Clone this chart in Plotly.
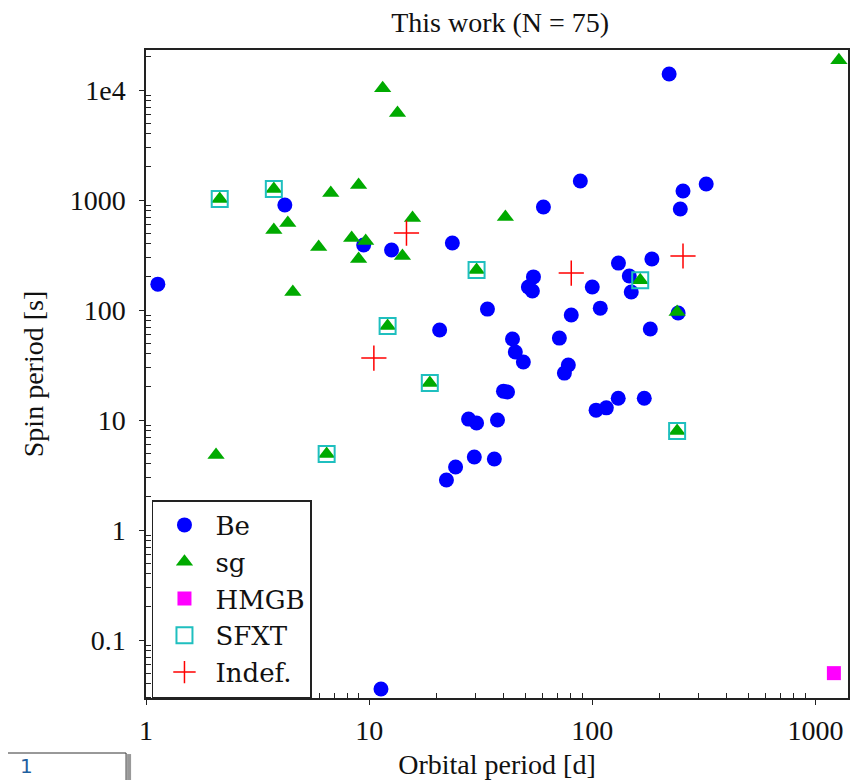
import plotly.graph_objects as go

# ---- data (orbital period [d], spin period [s]) ----
be_x = [1.13, 4.19, 9.45, 12.6, 23.6, 20.7, 33.9, 60.4, 88.4, 221, 255, 324, 248,
        54.5, 51.7, 53.9, 131, 185, 146.5, 149.5, 100, 108.6, 80.5, 182, 242.5,
        43.9, 45.2, 49.1, 71.2, 78.1, 75.0, 40.0, 41.7, 37.6, 36.4, 104, 115.6,
        130.7, 171, 27.9, 30.3, 29.6, 24.4, 22.2, 11.3]
be_y = [172, 901, 390, 351, 407, 65.8, 102, 864, 1489, 14000, 1207, 1397, 828,
        200, 162, 149, 267, 291, 204, 146, 162, 104, 90, 67.2, 94,
        54.5, 41.5, 33.7, 55.6, 31.6, 26.7, 18.3, 18.0, 10, 4.42, 12.3, 12.9,
        15.8, 15.8, 10.2, 9.4, 4.61, 3.74, 2.85, 0.0359]

sg_x = [2.14, 3.74, 3.74, 4.32, 5.94, 4.55, 6.73, 8.97, 11.5, 13.4, 8.35, 9.65,
        8.97, 14.1, 15.65, 30.3, 12.1, 1274, 40.8, 164, 240, 18.7, 2.06, 6.45, 240]
sg_y = [1021, 1259, 533, 619, 374, 146, 1158, 1369, 10400, 6170, 451, 424,
        291, 310, 686, 231, 71.6, 18700, 700, 187, 96, 21.7, 4.8, 4.91, 7.94]

hmgb_x = [1210]
hmgb_y = [0.05]

sfxt_x = [2.14, 3.74, 30.3, 12.1, 164, 18.7, 6.45, 240]
sfxt_y = [1021, 1259, 231, 71.6, 187, 21.7, 4.91, 7.94]

indef_x = [14.7, 10.5, 80.5, 255]
indef_y = [501, 36.6, 217, 310]

x_ticks = [1, 10, 100, 1000]
x_ticklabels = ["1", "10", "100", "1000"]
y_ticks = [0.1, 1, 10, 100, 1000, 10000]
y_ticklabels = ["0.1", "1", "10", "100", "1000", "1e4"]
minor_mult = [2, 3, 4, 5, 6, 7, 8, 9]
x_minor = [m * d for d in [1, 10, 100, 1000] for m in minor_mult]
y_minor = [m * d for d in [0.01, 0.1, 1, 10, 100, 1000, 10000] for m in minor_mult]

FONT = "Liberation Serif"
INK = "#111111"

fig = go.Figure()
fig.add_trace(go.Scatter(x=be_x, y=be_y, mode="markers", name="Be",
                         marker=dict(symbol="circle", size=15, color="#0000ff",
                                     line=dict(width=0))))
fig.add_trace(go.Scatter(x=sg_x, y=sg_y, mode="markers", name="sg",
                         marker=dict(symbol="triangle-up", size=15, color="#00aa00",
                                     line=dict(width=0))))
fig.add_trace(go.Scatter(x=hmgb_x, y=hmgb_y, mode="markers", name="HMGB",
                         marker=dict(symbol="square", size=14, color="#ff00ff",
                                     line=dict(width=0))))
fig.add_trace(go.Scatter(x=sfxt_x, y=sfxt_y, mode="markers", name="SFXT",
                         marker=dict(symbol="square-open", size=16, color="#1fbfbf",
                                     line=dict(width=2, color="#1fbfbf"))))
fig.add_trace(go.Scatter(x=indef_x, y=indef_y, mode="markers", name="Indef.",
                         marker=dict(symbol="cross-thin-open", size=18, color="#ff0000",
                                     line=dict(width=1.5, color="#ff0000"))))

axis_common = dict(type="log", showgrid=False, zeroline=False, showline=True,
                   linecolor="#222222", linewidth=1.5, mirror=True,
                   ticks="outside", ticklen=5, tickwidth=1.2, tickcolor="#222222",
                   tickfont=dict(family=FONT, size=28, color=INK))

fig.update_xaxes(**axis_common, range=[0, 3.146], tickmode="array",
                 tickvals=x_ticks, ticktext=x_ticklabels, ticklabelstandoff=2,
                 minor=dict(tickmode="array", tickvals=x_minor, ticks="inside",
                            ticklen=5, tickwidth=1, tickcolor="#222222", showgrid=False),
                 title=dict(text="Orbital period [d]", font=dict(family=FONT, size=28, color=INK),
                            standoff=9))
fig.update_yaxes(**axis_common, range=[-1.527, 4.364], tickmode="array",
                 tickvals=y_ticks, ticktext=y_ticklabels, ticklabelstandoff=8,
                 minor=dict(tickmode="array", tickvals=y_minor, ticks="inside",
                            ticklen=5, tickwidth=1, tickcolor="#222222", showgrid=False),
                 title=dict(text="Spin period [s]", font=dict(family=FONT, size=28, color=INK),
                            standoff=18))

fig.update_layout(
    width=850, height=790,
    margin=dict(l=138, r=8, t=42, b=100),
    paper_bgcolor="white", plot_bgcolor="white",
    title=dict(text="This work (N = 75)", xref="container", x=0.579, xanchor="center",
               yref="container", y=0.9815, yanchor="middle",
               font=dict(family=FONT, size=28, color=INK)),
    showlegend=True,
    legend=dict(x=0.0085, y=0.0, xanchor="left", yanchor="bottom",
                bgcolor="white", bordercolor="#222222", borderwidth=1.5,
                font=dict(family="DejaVu Serif", size=26, color=INK),
                itemsizing="trace", itemwidth=52, tracegroupgap=0),
)

# partial widget visible at the bottom-left of the screenshot
fig.add_shape(type="rect", xref="paper", yref="paper",
              x0=-0.23, x1=-0.0284, y0=-0.16, y1=-0.0849,
              line=dict(color="#333333", width=1), fillcolor="white")
fig.add_shape(type="line", xref="paper", yref="paper",
              x0=-0.0241, x1=-0.0241, y0=-0.16, y1=-0.0865,
              line=dict(color="#999999", width=4))
fig.add_annotation(xref="paper", yref="paper", x=-0.183, y=-0.1265, text="1",
                   showarrow=False, yanchor="bottom",
                   font=dict(family="DejaVu Sans", size=20, color="#1f5f9f"))

fig.write_html("out.html")
